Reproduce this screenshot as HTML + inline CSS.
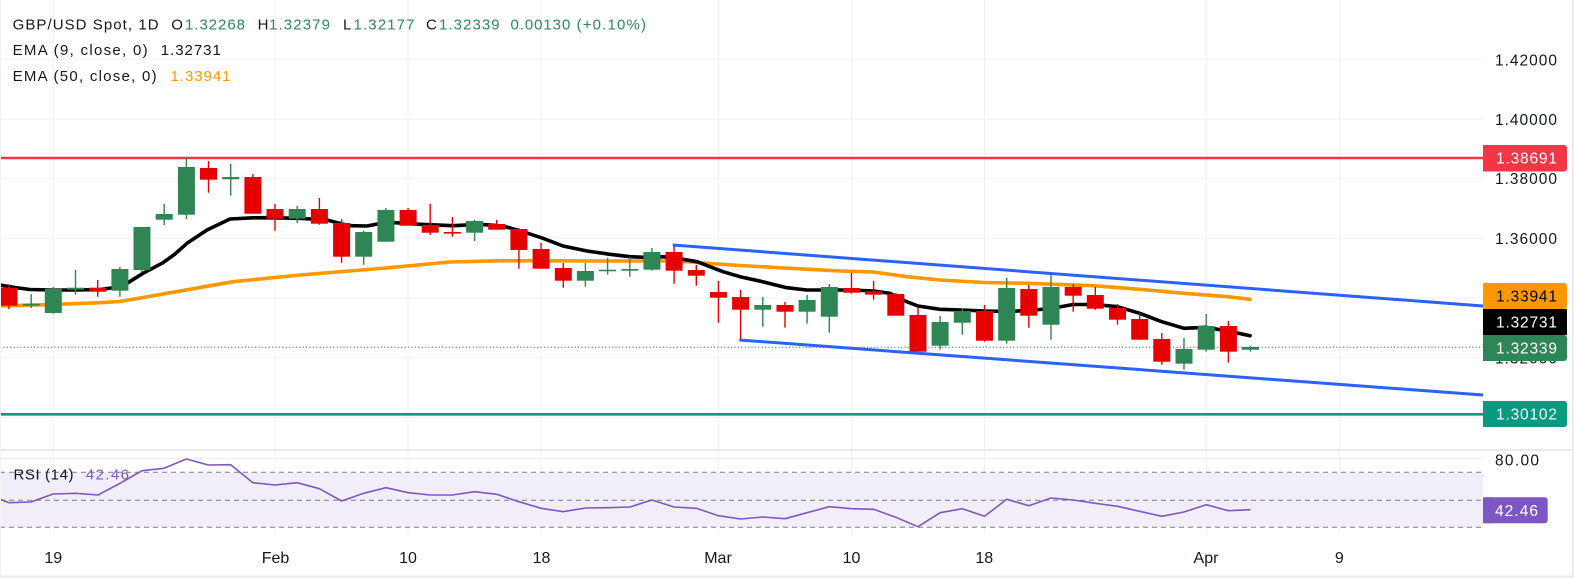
<!DOCTYPE html>
<html>
<head>
<meta charset="utf-8">
<style>
html,body{margin:0;padding:0;background:#fff;}
svg{display:block;}
text{font-family:"Liberation Sans",Arial,sans-serif;}
</style>
</head>
<body>
<svg width="1574" height="578" viewBox="0 0 1574 578" xmlns="http://www.w3.org/2000/svg">
<rect x="0" y="0" width="1574" height="578" fill="#ffffff"/>

<!-- gridlines -->
<g stroke="#f0f0f4" stroke-width="1">
  <line x1="0" y1="59.3" x2="1483" y2="59.3"/>
  <line x1="0" y1="119.3" x2="1483" y2="119.3"/>
  <line x1="0" y1="178.3" x2="1483" y2="178.3"/>
  <line x1="0" y1="238.3" x2="1483" y2="238.3"/>
  <line x1="0" y1="298" x2="1483" y2="298"/>
  <line x1="0" y1="357.8" x2="1483" y2="357.8"/>
  <line x1="0" y1="417.5" x2="1483" y2="417.5"/>
  <line x1="0" y1="458.5" x2="1483" y2="458.5"/>
  <line x1="0" y1="513.5" x2="1483" y2="513.5"/>
  <line x1="53.3" y1="0" x2="53.3" y2="534"/>
  <line x1="275" y1="0" x2="275" y2="534"/>
  <line x1="408" y1="0" x2="408" y2="534"/>
  <line x1="541" y1="0" x2="541" y2="534"/>
  <line x1="718.4" y1="0" x2="718.4" y2="534"/>
  <line x1="851.5" y1="0" x2="851.5" y2="534"/>
  <line x1="984.5" y1="0" x2="984.5" y2="534"/>
  <line x1="1206.5" y1="0" x2="1206.5" y2="534"/>
  <line x1="1339.3" y1="0" x2="1339.3" y2="534"/>
</g>

<!-- pane separator -->
<line x1="0" y1="450" x2="1572" y2="450" stroke="#e2e0ec" stroke-width="1.5"/>

<!-- horizontal levels -->
<line x1="0" y1="158" x2="1483" y2="158" stroke="#f23645" stroke-width="2.6"/>
<line x1="0" y1="414.3" x2="1483" y2="414.3" stroke="#089981" stroke-width="2.6"/>

<!-- current price dotted line -->
<line x1="0" y1="347.3" x2="1483" y2="347.3" stroke="#2e8555" stroke-width="1" stroke-dasharray="1.2 2.2"/>

<!-- EMA 50 -->
<polyline fill="none" stroke="#ff9800" stroke-width="3.6" stroke-linejoin="round" stroke-linecap="round"
 points="0,306 53,304.5 100,302.7 120,301.5 167,293.3 233,281.7 300,275 380,268.5 450,262 503,260.7 603,261 670,261 690,262 703,263 740,265.5 790,268.3 840,271 873,272 907,276.7 940,280 984,282.5 1027,283.3 1093,285.7 1140,289.3 1184,293.3 1228,296.7 1250,299.3"/>

<!-- EMA 9 -->
<polyline fill="none" stroke="#000000" stroke-width="3.6" stroke-linejoin="round" stroke-linecap="round"
 points="0,285 15,287.5 30,289.5 53,290 76,290 100,289.5 115,287.5 127,283.3 143,273.3 163,262.7 175,254 187,243.3 207,230 230,219 253,217.8 267,217.7 300,218.3 327,220 342,224 350,225.7 367,226 380,223.5 395,222.7 420,224.3 453,225.7 480,224.3 503,226 523,231.7 543,238.3 563,246 587,251 610,254.3 630,256.7 653,257.7 663,256.7 683,259.3 697,261.7 710,266.7 723,271.7 740,276.7 762.7,281.7 786.7,287.7 806.7,290 829,290 851,290 873.7,291 890,293.3 906.7,301.7 918,306 940,309.3 962,310 984,311 1006.7,311.5 1028.7,310.5 1051,308.5 1073,304.5 1095,304.5 1117.5,306.7 1139.7,313.3 1161.8,321.7 1184,328.3 1206,327.3 1228,331 1250,335.7"/>

<!-- green candles -->
<g fill="#2d8654" stroke="#2d8654">
<g stroke-width="1.4">
<line x1="31.2" y1="294" x2="31.2" y2="308"/>
<line x1="53.3" y1="287" x2="53.3" y2="313.7"/>
<line x1="75.5" y1="270" x2="75.5" y2="294.7"/>
<line x1="119.9" y1="266.7" x2="119.9" y2="296.7"/>
<line x1="142" y1="227" x2="142" y2="272.3"/>
<line x1="164.2" y1="204" x2="164.2" y2="225"/>
<line x1="186.4" y1="157.3" x2="186.4" y2="219"/>
<line x1="230.7" y1="164" x2="230.7" y2="195.7"/>
<line x1="297.2" y1="206" x2="297.2" y2="223"/>
<line x1="363.7" y1="230.7" x2="363.7" y2="264.7"/>
<line x1="385.9" y1="208" x2="385.9" y2="241.7"/>
<line x1="474.6" y1="220" x2="474.6" y2="241"/>
<line x1="585.4" y1="263" x2="585.4" y2="286.7"/>
<line x1="607.6" y1="257.7" x2="607.6" y2="274.7"/>
<line x1="629.8" y1="257" x2="629.8" y2="276.7"/>
<line x1="651.9" y1="248" x2="651.9" y2="270.7"/>
<line x1="762.8" y1="297" x2="762.8" y2="326.7"/>
<line x1="807.1" y1="295" x2="807.1" y2="323.7"/>
<line x1="829.3" y1="284" x2="829.3" y2="332.7"/>
<line x1="940.1" y1="316" x2="940.1" y2="349.7"/>
<line x1="962.3" y1="308" x2="962.3" y2="334.7"/>
<line x1="1006.7" y1="278" x2="1006.7" y2="343.7"/>
<line x1="1051" y1="274" x2="1051" y2="339.7"/>
<line x1="1184" y1="338" x2="1184" y2="369.7"/>
<line x1="1206.2" y1="314" x2="1206.2" y2="351.7"/>
<line x1="1250.5" y1="346" x2="1250.5" y2="351.7"/>
</g>
<g stroke="none">
<rect x="22.7" y="303.7" width="17" height="2"/>
<rect x="44.8" y="288.7" width="17" height="24.3"/>
<rect x="67" y="287.7" width="17" height="2"/>
<rect x="111.4" y="269" width="17" height="21.7"/>
<rect x="133.5" y="227" width="17" height="43"/>
<rect x="155.7" y="214" width="17" height="5.7"/>
<rect x="177.9" y="167" width="17" height="47.7"/>
<rect x="222.2" y="177" width="17" height="2.3"/>
<rect x="288.7" y="209" width="17" height="9.7"/>
<rect x="355.2" y="232" width="17" height="24.7"/>
<rect x="377.4" y="210" width="17" height="31.7"/>
<rect x="466.1" y="221" width="17" height="11.7"/>
<rect x="576.9" y="271" width="17" height="9.7"/>
<rect x="599.1" y="269.7" width="17" height="1.6"/>
<rect x="621.3" y="269" width="17" height="1.7"/>
<rect x="643.4" y="252" width="17" height="17.7"/>
<rect x="754.3" y="305" width="17" height="4.7"/>
<rect x="798.6" y="300" width="17" height="11.7"/>
<rect x="820.8" y="287" width="17" height="29.7"/>
<rect x="931.6" y="322" width="17" height="23.7"/>
<rect x="953.8" y="311" width="17" height="11.7"/>
<rect x="998.2" y="288" width="17" height="52.7"/>
<rect x="1042.5" y="287" width="17" height="37.7"/>
<rect x="1175.5" y="349" width="17" height="14.7"/>
<rect x="1197.7" y="326" width="17" height="23.7"/>
<rect x="1242" y="347" width="17" height="2.7"/>
</g>
</g>

<!-- red candles -->
<g fill="#e60000" stroke="#e60000">
<g stroke-width="1.4">
<line x1="9" y1="284.3" x2="9" y2="309"/>
<line x1="97.7" y1="280" x2="97.7" y2="296.7"/>
<line x1="208.5" y1="161" x2="208.5" y2="192.7"/>
<line x1="252.9" y1="174" x2="252.9" y2="213.7"/>
<line x1="275" y1="204" x2="275" y2="230.7"/>
<line x1="319.4" y1="198" x2="319.4" y2="224.7"/>
<line x1="341.6" y1="219.3" x2="341.6" y2="262.7"/>
<line x1="408.1" y1="208" x2="408.1" y2="225.7"/>
<line x1="430.2" y1="204" x2="430.2" y2="235"/>
<line x1="452.4" y1="217" x2="452.4" y2="236.7"/>
<line x1="496.7" y1="220" x2="496.7" y2="229.7"/>
<line x1="518.9" y1="228" x2="518.9" y2="268.7"/>
<line x1="541.1" y1="243" x2="541.1" y2="268.7"/>
<line x1="563.3" y1="263" x2="563.3" y2="287.7"/>
<line x1="674.1" y1="245" x2="674.1" y2="283.7"/>
<line x1="696.3" y1="265" x2="696.3" y2="285.7"/>
<line x1="718.4" y1="281" x2="718.4" y2="322.7"/>
<line x1="740.6" y1="290" x2="740.6" y2="340.7"/>
<line x1="785" y1="302" x2="785" y2="327.7"/>
<line x1="851.5" y1="273" x2="851.5" y2="293.7"/>
<line x1="873.6" y1="281" x2="873.6" y2="299.7"/>
<line x1="895.8" y1="293" x2="895.8" y2="315.7"/>
<line x1="918" y1="307.7" x2="918" y2="351.7"/>
<line x1="984.5" y1="305" x2="984.5" y2="341.7"/>
<line x1="1028.8" y1="285" x2="1028.8" y2="327.7"/>
<line x1="1073.2" y1="284" x2="1073.2" y2="311.7"/>
<line x1="1095.3" y1="287" x2="1095.3" y2="309.7"/>
<line x1="1117.5" y1="304" x2="1117.5" y2="324.7"/>
<line x1="1139.7" y1="313" x2="1139.7" y2="339.7"/>
<line x1="1161.8" y1="333" x2="1161.8" y2="364.7"/>
<line x1="1228.4" y1="321" x2="1228.4" y2="362.7"/>
</g>
<g stroke="none">
<rect x="0.5" y="287.7" width="17" height="18"/>
<rect x="89.2" y="287.7" width="17" height="4"/>
<rect x="200" y="168" width="17" height="11.7"/>
<rect x="244.4" y="177" width="17" height="36.7"/>
<rect x="266.5" y="209" width="17" height="9.7"/>
<rect x="310.9" y="209" width="17" height="14.7"/>
<rect x="333.1" y="223" width="17" height="33.7"/>
<rect x="399.6" y="210" width="17" height="15.7"/>
<rect x="421.7" y="225" width="17" height="7.7"/>
<rect x="443.9" y="232" width="17" height="1.6"/>
<rect x="488.2" y="224" width="17" height="5.7"/>
<rect x="510.4" y="229" width="17" height="21"/>
<rect x="532.6" y="249" width="17" height="19.7"/>
<rect x="554.8" y="268" width="17" height="12.7"/>
<rect x="665.6" y="252" width="17" height="18.7"/>
<rect x="687.8" y="270" width="17" height="5.7"/>
<rect x="709.9" y="292" width="17" height="5.7"/>
<rect x="732.1" y="297" width="17" height="12.7"/>
<rect x="776.5" y="305" width="17" height="6.7"/>
<rect x="843" y="288" width="17" height="4.7"/>
<rect x="865.1" y="291.3" width="17" height="3.4"/>
<rect x="887.3" y="294" width="17" height="21.7"/>
<rect x="909.5" y="315" width="17" height="36.7"/>
<rect x="976" y="311" width="17" height="29.7"/>
<rect x="1020.3" y="289" width="17" height="26.7"/>
<rect x="1064.7" y="287" width="17" height="8.7"/>
<rect x="1086.8" y="295" width="17" height="13.7"/>
<rect x="1109" y="308" width="17" height="11.7"/>
<rect x="1131.2" y="319" width="17" height="20.7"/>
<rect x="1153.3" y="339" width="17" height="22.7"/>
<rect x="1219.9" y="326" width="17" height="25.7"/>
</g>
</g>

<!-- channel lines -->
<line x1="672.7" y1="245" x2="1483" y2="306" stroke="#2962ff" stroke-width="3"/>
<line x1="739.3" y1="340" x2="1483" y2="395" stroke="#2962ff" stroke-width="3"/>

<!-- RSI pane -->
<rect x="0" y="472.3" width="1483" height="55" fill="#f1eef9"/>
<g stroke="#7b7e89" stroke-width="1" stroke-dasharray="5 4">
  <line x1="0" y1="472.3" x2="1483" y2="472.3"/>
  <line x1="0" y1="500.3" x2="1483" y2="500.3"/>
  <line x1="0" y1="527.3" x2="1483" y2="527.3"/>
</g>
<polyline fill="none" stroke="#7e57c2" stroke-width="1.6" stroke-linejoin="round"
 points="0,499.3 9,502.7 31,502 53,494 76,493.3 98,495 120,483.3 142,470.7 164,468.3 186.4,459 208.5,465 230.7,464.7 252.9,482.7 275,485 297.2,482.7 319.4,488.7 341.6,501 363.7,493.3 385.9,487.7 408.1,492.7 430.2,495 452.4,495 474.6,491.7 496.7,494.3 518.9,501.7 541.1,508.3 563.3,511.7 585.4,508 607.6,507.7 629.8,507 651.9,500 674.1,507 696.3,508.3 718.4,515.7 740.6,519 762.8,517 785,518.7 807.1,512.7 829.3,506.7 851.5,508.7 873.6,509.3 895.8,517.3 918,526.7 940.1,512.7 962.3,508.7 984.5,516.3 1006.7,499.3 1028.8,505.7 1051,498 1073.2,500 1095.3,503.3 1117.5,506.3 1139.7,511.3 1161.8,516.3 1184,512 1206.2,504.7 1228.4,510.7 1250.5,509.7"/>

<!-- Legend -->
<g font-size="15" fill="#131722">
  <text x="12.6" y="29.5" textLength="146">GBP/USD Spot, 1D</text>
  <text x="171.3" y="29.5">O</text>
  <text x="185" y="29.5" fill="#2b8a55" textLength="60">1.32268</text>
  <text x="257.6" y="29.5">H</text>
  <text x="269" y="29.5" fill="#2b8a55" textLength="61">1.32379</text>
  <text x="343" y="29.5">L</text>
  <text x="353.5" y="29.5" fill="#2b8a55" textLength="61">1.32177</text>
  <text x="426" y="29.5">C</text>
  <text x="439" y="29.5" fill="#2b8a55" textLength="60.6">1.32339</text>
  <text x="510.5" y="29.5" fill="#2b8a55" textLength="59.8">0.00130</text>
  <text x="576.6" y="29.5" fill="#2b8a55" textLength="69.4">(+0.10%)</text>

  <text x="12.6" y="55" textLength="135">EMA (9, close, 0)</text>
  <text x="160.8" y="55" textLength="60">1.32731</text>

  <text x="12.6" y="81" textLength="144">EMA (50, close, 0)</text>
  <text x="170.5" y="81" fill="#ff9800" textLength="60">1.33941</text>

  <text x="13.5" y="479.5" textLength="60">RSI (14)</text>
  <text x="85.7" y="479.5" fill="#7e57c2" textLength="43.3">42.46</text>
</g>

<!-- Price axis labels -->
<g font-size="15.5" fill="#131722">
  <text x="1495" y="65.5" textLength="62">1.42000</text>
  <text x="1495" y="124.8" textLength="62">1.40000</text>
  <text x="1495" y="183.8" textLength="62">1.38000</text>
  <text x="1495" y="243.8" textLength="62">1.36000</text>
  <text x="1495" y="363.5" textLength="62">1.32000</text>
  <text x="1495" y="465.5" textLength="44">80.00</text>
</g>

<!-- Price axis tags -->
<g font-size="15.5">
  <rect x="1483" y="145" width="84" height="26.5" rx="3" fill="#f23645"/>
  <rect x="1483" y="145" width="10" height="26.5" fill="#f23645"/>
  <text x="1496" y="163.5" fill="#ffffff" textLength="61">1.38691</text>

  <rect x="1483" y="283" width="84" height="26" rx="3" fill="#ff9800"/>
  <rect x="1483" y="283" width="10" height="26" fill="#ff9800"/>
  <text x="1496" y="301.5" fill="#000000" textLength="61">1.33941</text>

  <rect x="1483" y="309" width="84" height="26" fill="#000000"/>
  <text x="1496" y="327.5" fill="#ffffff" textLength="61">1.32731</text>

  <rect x="1483" y="335" width="84" height="26" rx="3" fill="#2e8555"/>
  <rect x="1483" y="335" width="10" height="26" fill="#2e8555"/>
  <text x="1496" y="353.5" fill="#ffffff" textLength="61">1.32339</text>

  <rect x="1483" y="401" width="84" height="26" rx="3" fill="#089981"/>
  <rect x="1483" y="401" width="10" height="26" fill="#089981"/>
  <text x="1496" y="419.5" fill="#ffffff" textLength="61">1.30102</text>

  <rect x="1483" y="497.3" width="64.7" height="26" rx="3" fill="#7e57c2"/>
  <rect x="1483" y="497.3" width="10" height="26" fill="#7e57c2"/>
  <text x="1495" y="515.8" fill="#ffffff" textLength="43">42.46</text>
</g>

<!-- Time axis labels -->
<g font-size="16" fill="#131722" text-anchor="middle">
  <text x="53.3" y="563">19</text>
  <text x="275.5" y="563">Feb</text>
  <text x="408" y="563">10</text>
  <text x="541.5" y="563">18</text>
  <text x="718" y="563">Mar</text>
  <text x="851.5" y="563">10</text>
  <text x="984.3" y="563">18</text>
  <text x="1206" y="563">Apr</text>
  <text x="1339.3" y="563">9</text>
</g>

<!-- frame -->
<rect x="1572" y="0" width="2" height="578" fill="#eeeef2"/>
<rect x="0" y="575.5" width="1574" height="2.5" fill="#eeeef2"/>
<rect x="0" y="0" width="1" height="578" fill="#f2f2f5"/>
</svg>
</body>
</html>
